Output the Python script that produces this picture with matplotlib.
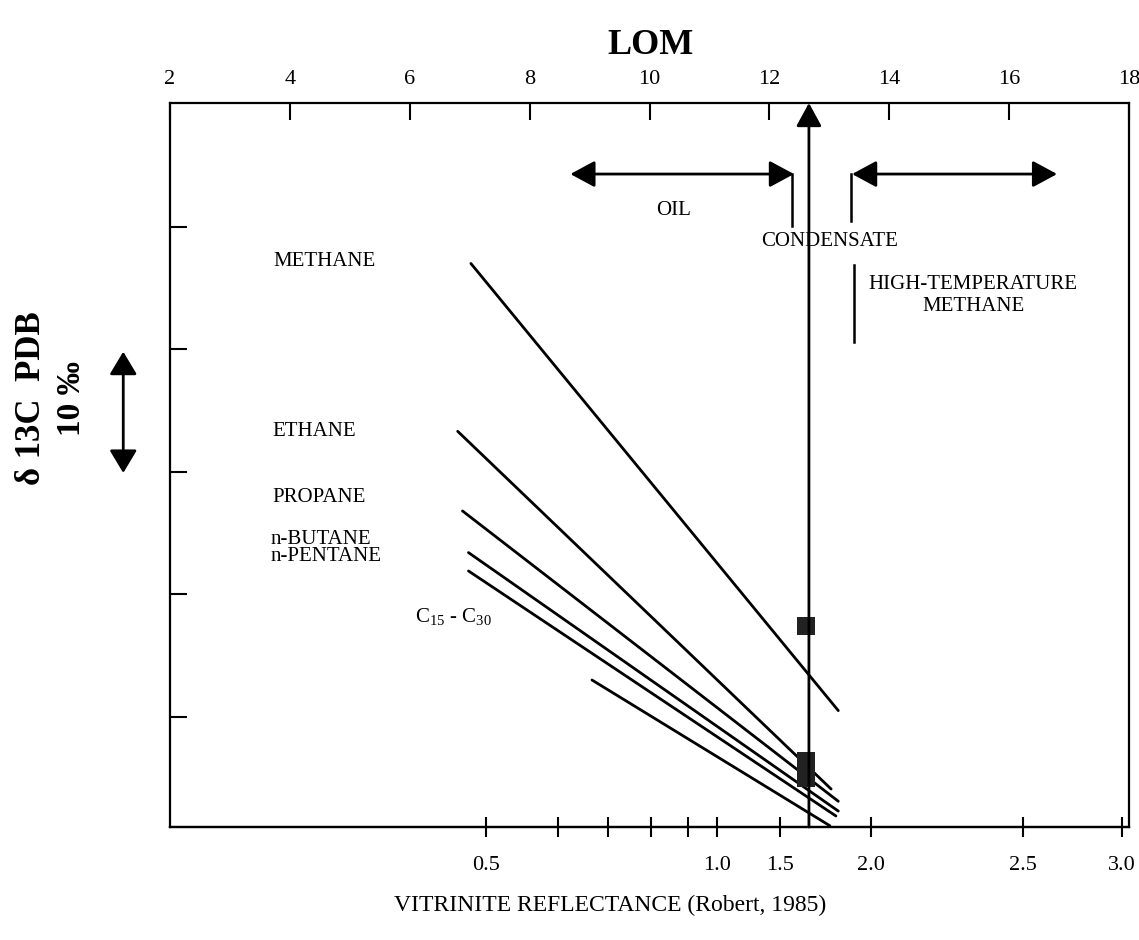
import matplotlib
matplotlib.use('Agg')
import matplotlib.pyplot as plt

SERIF = ['Liberation Serif', 'DejaVu Serif']
plt.rcParams['font.family'] = SERIF
plt.rcParams['mathtext.fontset'] = 'custom'
plt.rcParams['mathtext.rm'] = 'Liberation Serif'

# ---------------- data (x in LOM units, y in delta13C units) ----------------
series_names = ['METHANE', 'ETHANE', 'PROPANE', 'n-BUTANE', 'n-PENTANE', 'C15 - C30']
x_start = [7.02, 6.80, 6.88, 6.98, 6.98, 9.04]
x_end = [13.15, 13.03, 13.15, 13.15, 13.11, 13.01]
y_start = [37.0, 23.3, 16.8, 13.4, 11.9, 3.0]
y_end = [0.5, -5.9, -6.9, -7.7, -8.1, -8.9]

label_x = [3.72, 3.70, 3.70, 3.67, 3.67, 6.08]
label_y = [37.2, 23.3, 17.9, 14.5, 13.1, 8.1]
label_text = ['METHANE', 'ETHANE', 'PROPANE', 'n-BUTANE', 'n-PENTANE',
              r'C$_{15}$ - C$_{30}$']

lom_ticks = [2, 4, 6, 8, 10, 12, 14, 16, 18]
lom_labels = ['2', '4', '6', '8', '10', '12', '14', '16', '18']

ro_tick_pos = [7.27, 8.48, 9.30, 10.02, 10.65, 11.13, 12.17, 13.70, 16.23, 17.88]
ro_labels = ['0.5', '', '', '', '', '1.0', '1.5', '2.0', '2.5', '3.0']

d13c_ticks = [0, 10, 20, 30, 40]

# vertical marker line and squares
v_line_x = 12.66
square_x = [12.61, 12.61, 12.61]
square_y = [7.4, -3.6, -5.0]

# zone arrows (LOM)
oil_arrow = (8.68, 12.41)
htm_arrow = (13.38, 16.80)
arrow_y = 44.3
zone_ticks_x = [12.38, 13.36, 13.41]
zone_ticks_y0 = [44.3, 44.3, 36.9]
zone_ticks_y1 = [40.1, 40.5, 30.6]

zone_text = ['OIL', 'CONDENSATE', 'HIGH-TEMPERATURE\nMETHANE']
zone_text_x = [10.40, 13.01, 15.40]
zone_text_y = [41.3, 38.8, 34.4]

XMIN, XMAX = 2, 18
YMIN, YMAX = -9, 50.1

# ---------------- figure ----------------
W, H = 1139, 940
fig = plt.figure(figsize=(W / 100, H / 100), dpi=100)
ax = fig.add_axes([170 / W, 113 / H, (1129 - 170) / W, (827 - 103) / H])
ax.set_xlim(XMIN, XMAX)
ax.set_ylim(YMIN, YMAX)

for sp in ax.spines.values():
    sp.set_linewidth(1.6)

# top LOM axis
ax.set_xticks(lom_ticks)
ax.set_xticklabels(lom_labels)
ax.tick_params(axis='x', top=True, labeltop=True, bottom=False, labelbottom=False,
               direction='in', length=12, width=1.5, pad=10, labelsize=16)

# left ticks (no labels)
ax.set_yticks(d13c_ticks)
ax.set_yticklabels([])
ax.tick_params(axis='y', left=True, right=False, direction='in', length=12, width=1.5)

# bottom vitrinite reflectance axis
sec = ax.secondary_xaxis('bottom')
sec.set_xticks(ro_tick_pos)
sec.set_xticklabels(ro_labels)
sec.tick_params(direction='inout', length=14, width=1.5, pad=14, labelsize=16)
sec.spines['bottom'].set_linewidth(1.6)

# series lines
for xs, xe, ys, ye in zip(x_start, x_end, y_start, y_end):
    ax.plot([xs, xe], [ys, ye], color='black', lw=2.0, solid_capstyle='round')

for tx, ty, t in zip(label_x, label_y, label_text):
    ax.text(tx, ty, t, ha='left', va='center', fontsize=15)

# vertical line with arrow head
ax.annotate('', xy=(v_line_x, YMAX), xytext=(v_line_x, YMIN),
            arrowprops=dict(arrowstyle='-|>,head_length=0.55,head_width=0.3',
                            mutation_scale=26, lw=2.0, color='black',
                            shrinkA=0, shrinkB=0))
ax.plot(square_x, square_y, 's', color='#222222', markersize=12.5, markeredgewidth=0)

# zone arrows
for (a, b) in [oil_arrow, htm_arrow]:
    ax.annotate('', xy=(b, arrow_y), xytext=(a, arrow_y),
                arrowprops=dict(arrowstyle='<|-|>,head_length=0.5,head_width=0.27',
                                mutation_scale=30, lw=2.0, color='black',
                                shrinkA=0, shrinkB=0))
for zx, y0, y1 in zip(zone_ticks_x, zone_ticks_y0, zone_ticks_y1):
    ax.plot([zx, zx], [y0, y1], color='black', lw=1.8)

for zx, zy, t in zip(zone_text_x, zone_text_y, zone_text):
    ax.text(zx, zy, t, ha='center', va='center', fontsize=15,
            multialignment='center', linespacing=1.25)

# 10 per mil scale arrow (outside the axes, on the left)
ax.annotate('', xy=(1.22, 19.9), xytext=(1.22, 29.8), xycoords='data',
            annotation_clip=False,
            arrowprops=dict(arrowstyle='<|-|>,head_length=0.5,head_width=0.3',
                            mutation_scale=28, lw=2.0, color='black',
                            shrinkA=0, shrinkB=0))

# titles
fig.text(650 / W, 1 - 45 / H, 'LOM', ha='center', va='center',
         fontsize=26, fontweight='bold')
fig.text(610 / W, 1 - 905 / H, 'VITRINITE REFLECTANCE (Robert, 1985)',
         ha='center', va='center', fontsize=17)
fig.text(32 / W, 1 - 398 / H, 'δ 13C  PDB', rotation=90, ha='center', va='center',
         fontsize=25, fontweight='bold')
fig.text(72 / W, 1 - 398 / H, '10 ‰', rotation=90, ha='center', va='center',
         fontsize=24, fontweight='bold')

fig.savefig('out.png', dpi=100)
